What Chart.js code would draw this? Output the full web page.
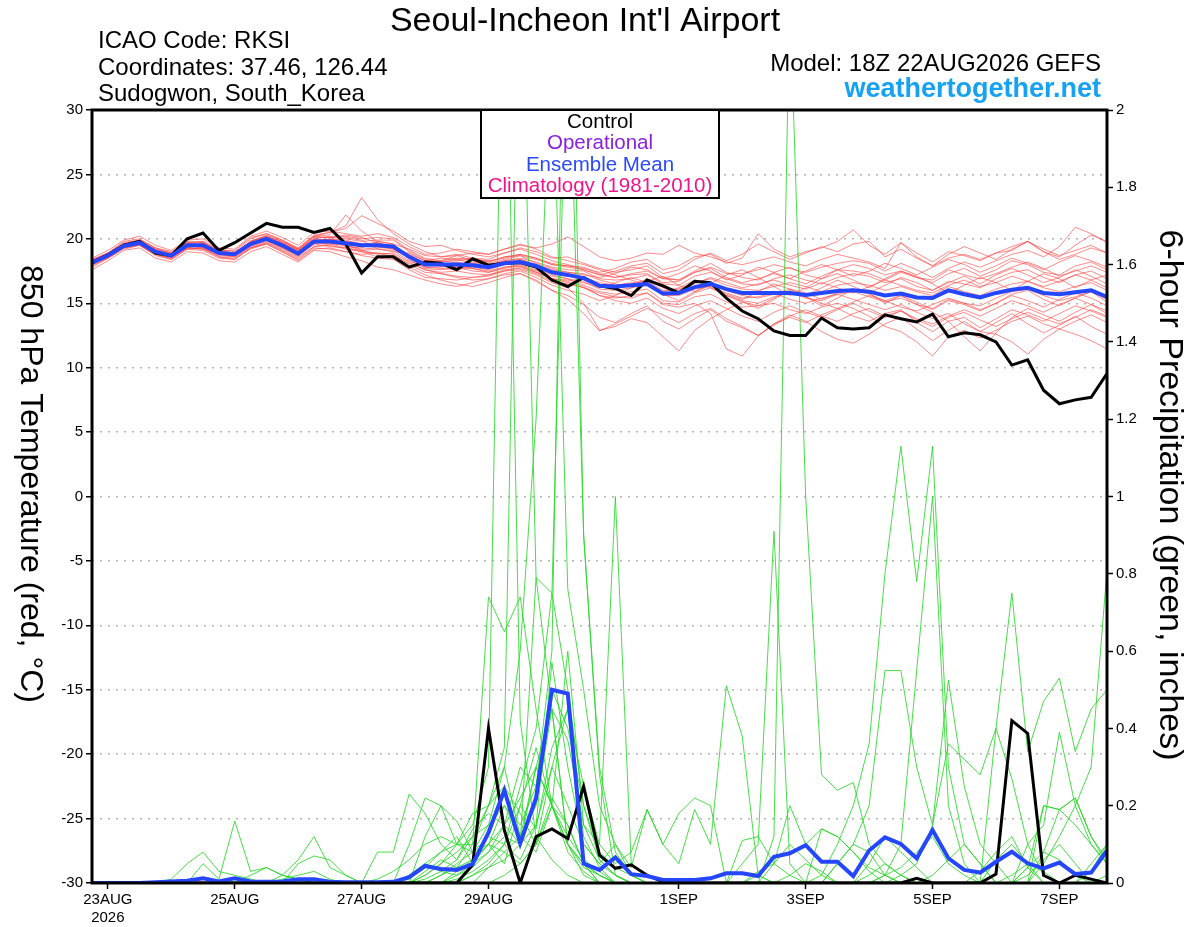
<!DOCTYPE html>
<html>
<head>
<meta charset="utf-8">
<title>Seoul-Incheon Int'l Airport - GEFS</title>
<script src="https://cdn.jsdelivr.net/npm/chart.js@4.4.1/dist/chart.umd.min.js"></script>
<style>
  html, body { margin: 0; padding: 0; background: #fff; }
  canvas { display: block; }
</style>
</head>
<body>
<canvas id="chart" width="1200" height="927"></canvas>
<script>
// forecast hours from 18Z 22AUG2026, every 6 h
const hours = [0, 6, 12, 18, 24, 30, 36, 42, 48, 54, 60, 66, 72, 78, 84, 90, 96, 102, 108, 114, 120,
  126, 132, 138, 144, 150, 156, 162, 168, 174, 180, 186, 192, 198, 204, 210, 216, 222, 228, 234, 240,
  246, 252, 258, 264, 270, 276, 282, 288, 294, 300, 306, 312, 318, 324, 330, 336, 342, 348, 354, 360,
  366, 372, 378, 384];

// x axis ticks (00Z of the labelled day)
const tickHours = [6, 54, 102, 150, 222, 270, 318, 366];
const tickLabels = [['23AUG', '2026'], '25AUG', '27AUG', '29AUG', '1SEP', '3SEP', '5SEP', '7SEP'];

// ensemble mean and control, 850 hPa temperature (C)
const meanTemp = [18.15, 18.7, 19.45, 19.7, 19.0, 18.7, 19.5, 19.5, 18.9, 18.8, 19.6, 20.0, 19.5,
  18.85, 19.8, 19.8, 19.65, 19.5, 19.5, 19.4, 18.6, 18.0, 18.0, 18.0, 17.95, 17.8,
  18.1, 18.2, 17.9, 17.4, 17.2, 16.95, 16.35, 16.3, 16.4, 16.5, 15.75, 15.8, 16.25,
  16.5, 16.1, 15.8, 15.8, 15.8, 15.8, 15.65, 15.8, 15.95, 16.0, 15.9, 15.6, 15.75,
  15.45, 15.4, 16.0, 15.7, 15.45, 15.8, 16.05, 16.2, 15.8, 15.7, 15.85, 16.0, 15.5];
const controlTemp = [18.15, 18.75, 19.5, 19.8, 18.9, 18.7, 20.0, 20.45, 19.1, 19.7, 20.45, 21.2, 20.9,
  20.9, 20.5, 20.8, 19.6, 17.35, 18.6, 18.6, 17.8, 18.2, 18.1, 17.6, 18.45, 17.95,
  18.1, 18.15, 17.8, 16.8, 16.3, 17.0, 16.35, 16.15, 15.6, 16.8, 16.35, 15.8, 16.7,
  16.6, 15.4, 14.4, 13.8, 12.85, 12.5, 12.5, 13.85, 13.1, 13.0, 13.1, 14.1, 13.8,
  13.55, 14.15, 12.4, 12.7, 12.55, 12.0, 10.2, 10.6, 8.25, 7.2, 7.5, 7.7, 9.55];

// ensemble mean and control, 6-hour precipitation (in)
const meanPrecip = [0, 0, 0, 0, 0.002, 0.004, 0.006, 0.012, 0.004, 0.012, 0.004, 0.003, 0.004,
  0.01, 0.01, 0.003, 0.002, 0.002, 0.002, 0.003, 0.015, 0.044, 0.036, 0.034, 0.049, 0.13,
  0.24, 0.103, 0.22, 0.5, 0.49, 0.05, 0.034, 0.066, 0.023, 0.018, 0.008, 0.008, 0.008,
  0.012, 0.025, 0.025, 0.018, 0.068, 0.077, 0.098, 0.055, 0.055, 0.018, 0.084, 0.118, 0.101,
  0.064, 0.137, 0.064, 0.034, 0.027, 0.055, 0.081, 0.051, 0.038, 0.053, 0.023, 0.027, 0.084];
const controlPrecip = [0, 0, 0, 0, 0, 0, 0, 0, 0, 0, 0, 0, 0,
  0, 0, 0, 0, 0, 0, 0, 0, 0, 0, 0, 0.047, 0.4,
  0.137, 0, 0.12, 0.14, 0.115, 0.25, 0.072, 0.038, 0.047, 0.02, 0.003, 0, 0,
  0, 0, 0, 0, 0, 0, 0, 0, 0, 0, 0, 0, 0,
  0.012, 0, 0, 0, 0, 0.023, 0.42, 0.387, 0.02, 0, 0.02, 0.01, 0];

// ensemble members, temperature
const memberTemp01 = [18.3, 18.9, 19.7, 19.9, 19.2, 18.9, 19.7, 19.8, 19.0,
  18.9, 19.8, 20.3, 19.8, 19.2, 20.2, 20.5, 21.0,
  23.2, 21.5, 20.4, 19.6, 19.0, 18.6, 18.8, 18.5,
  18.4, 18.9, 19.2, 18.8, 18.3, 18.0, 17.6, 17.2,
  17.5, 17.9, 18.1, 17.3, 17.6, 18.4, 18.9, 18.3,
  18.8, 19.6, 19.0, 18.4, 18.9, 19.4, 19.0, 19.6,
  19.8, 18.6, 19.2, 18.5, 17.9, 18.8, 19.4, 18.9,
  18.4, 19.2, 19.8, 19.0, 18.6, 19.5, 20.3, 19.8];
const memberTemp02 = [18.0, 18.5, 19.3, 19.6, 18.8, 18.4, 19.2, 19.3, 18.6,
  18.5, 19.2, 19.6, 19.0, 18.4, 19.3, 19.2, 19.0,
  18.8, 18.9, 18.6, 17.8, 17.2, 16.8, 16.5, 16.3,
  16.6, 17.0, 17.3, 16.8, 16.0, 15.6, 14.9, 13.9,
  13.5, 14.2, 14.8, 13.6, 13.0, 13.8, 14.5, 13.6,
  13.1, 12.5, 13.4, 14.1, 13.6, 12.8, 12.2, 11.9,
  12.6, 13.4, 13.9, 13.0, 12.1, 12.9, 13.6, 12.8,
  13.5, 14.2, 13.4, 12.7, 13.3, 14.0, 13.2, 12.6];
const memberTemp03 = [18.1, 18.8, 19.6, 19.8, 19.1, 18.8, 19.6, 19.4, 18.8,
  18.7, 19.5, 20.1, 19.6, 19.1, 20.0, 19.9, 20.1,
  19.9, 19.2, 19.0, 18.9, 18.3, 18.2, 18.4, 18.1,
  18.0, 18.3, 18.5, 18.2, 17.8, 17.6, 17.5, 16.9,
  16.8, 16.9, 17.2, 16.5, 16.4, 17.1, 17.4, 16.9,
  16.5, 16.4, 16.9, 17.2, 16.8, 16.5, 17.0, 17.3,
  17.1, 16.6, 16.9, 16.3, 16.0, 16.7, 16.5, 16.2,
  16.9, 17.4, 17.6, 17.0, 16.6, 17.2, 17.5, 16.9];
const memberTemp04 = [18.2, 18.6, 19.4, 19.8, 19.0, 18.6, 19.3, 19.6, 19.0,
  18.9, 19.7, 19.9, 19.3, 18.7, 19.6, 20.0, 19.4,
  19.3, 19.8, 19.6, 18.4, 17.7, 17.6, 17.8, 17.5,
  17.4, 17.8, 18.0, 17.6, 17.1, 16.9, 16.4, 15.9,
  15.7, 15.9, 16.1, 15.2, 15.1, 15.8, 16.2, 15.6,
  15.2, 15.0, 15.5, 15.9, 15.4, 15.2, 15.7, 15.9,
  15.5, 15.1, 15.4, 14.9, 14.6, 15.3, 15.0, 14.8,
  15.4, 15.9, 16.1, 15.6, 15.2, 15.5, 15.9, 15.1];
const memberTemp05 = [18.4, 18.9, 19.8, 20.0, 19.3, 18.9, 19.8, 19.7, 19.1,
  19.1, 20.1, 20.4, 19.9, 19.3, 20.3, 20.5, 20.8,
  21.8, 21.2, 20.6, 19.8, 19.4, 19.5, 19.1, 18.8,
  18.6, 18.9, 19.3, 19.0, 18.5, 18.6, 18.1, 17.7,
  17.4, 17.6, 17.9, 17.0, 16.8, 17.5, 18.1, 17.4,
  17.0, 16.8, 17.4, 17.8, 17.2, 16.9, 17.6, 18.0,
  17.7, 17.2, 17.5, 17.0, 16.6, 17.3, 17.7, 17.1,
  17.6, 18.3, 18.0, 17.4, 17.2, 17.9, 18.2, 17.6];
const memberTemp06 = [17.8, 18.5, 19.2, 19.5, 18.8, 18.5, 19.3, 19.2, 18.6,
  18.4, 19.3, 19.7, 19.1, 18.5, 19.4, 19.6, 19.3,
  19.0, 18.6, 18.7, 18.1, 17.6, 17.3, 17.1, 17.0,
  17.1, 17.5, 17.6, 17.2, 16.6, 16.2, 15.0, 12.9,
  13.2, 13.8, 13.5, 12.4, 11.3, 12.9, 13.8, 14.5,
  15.1, 14.6, 15.3, 16.0, 15.5, 14.8, 15.4, 16.1,
  15.8, 15.0, 15.6, 15.1, 14.5, 15.2, 14.9, 14.4,
  15.0, 15.7, 16.0, 15.3, 14.8, 15.4, 15.9, 15.3];
const memberTemp07 = [18.3, 18.8, 19.6, 19.7, 19.0, 18.7, 19.5, 19.4, 18.8,
  18.7, 19.5, 19.9, 19.5, 18.9, 19.7, 19.7, 19.6,
  19.4, 19.4, 19.5, 18.6, 18.0, 17.9, 17.8, 17.7,
  17.5, 17.8, 17.9, 17.4, 16.9, 16.6, 16.2, 15.8,
  15.5, 15.4, 15.8, 14.9, 14.7, 15.0, 14.2, 11.45,
  10.9, 12.45, 13.4, 13.9, 13.5, 14.1, 14.6, 14.0,
  13.6, 14.2, 14.5, 13.5, 12.8, 13.6, 13.9, 13.1,
  13.8, 14.5, 14.1, 13.6, 14.2, 14.8, 14.4, 13.9];
const memberTemp08 = [18.1, 18.7, 19.4, 19.6, 18.9, 18.6, 19.4, 19.6, 19.0,
  18.9, 19.6, 20.0, 19.4, 18.8, 19.9, 19.9, 19.8,
  19.6, 19.7, 19.3, 18.8, 18.3, 18.5, 18.4, 18.5,
  18.2, 18.6, 18.7, 18.4, 18.0, 17.9, 17.8, 17.3,
  17.0, 17.2, 17.3, 16.6, 16.7, 17.4, 17.7, 17.0,
  16.6, 16.9, 17.3, 16.9, 16.5, 17.1, 17.6, 17.5,
  17.3, 16.8, 17.4, 17.0, 16.8, 17.6, 17.2, 16.9,
  17.3, 17.8, 18.2, 17.7, 17.1, 17.5, 17.9, 17.4];
const memberTemp09 = [18.0, 18.6, 19.4, 19.6, 18.9, 18.6, 19.3, 19.3, 18.8,
  18.6, 19.4, 19.8, 19.3, 18.7, 19.6, 19.4, 19.3,
  19.1, 19.2, 19.1, 18.3, 17.8, 17.7, 17.6, 17.8,
  17.6, 18.0, 18.1, 17.8, 17.2, 16.9, 16.7, 16.1,
  16.0, 16.2, 16.4, 15.6, 15.6, 16.1, 16.3, 15.8,
  15.4, 15.5, 15.8, 15.3, 15.0, 15.4, 15.7, 15.3,
  14.9, 14.5, 14.9, 14.3, 13.8, 14.2, 13.4, 12.8,
  12.6, 12.0, 11.05, 12.2, 13.0, 12.6, 12.1, 11.45];
const memberTemp10 = [18.3, 18.8, 19.5, 19.7, 19.1, 18.8, 19.6, 19.5, 19.0,
  18.9, 19.8, 20.2, 19.7, 19.1, 20.0, 20.2, 20.0,
  19.8, 19.9, 19.9, 19.0, 18.4, 18.2, 18.3, 18.4,
  18.3, 18.5, 18.8, 18.5, 18.1, 17.9, 17.7, 17.4,
  17.7, 18.2, 18.4, 17.6, 17.9, 18.6, 18.8, 18.1,
  18.5, 20.4, 19.2, 18.6, 19.0, 19.3, 19.8, 20.7,
  19.5, 18.8, 19.7, 18.9, 18.2, 19.0, 18.7, 18.3,
  18.9, 19.1, 19.8, 19.0, 18.4, 18.8, 19.3, 18.9];
const memberTemp11 = [18.2, 18.7, 19.5, 19.8, 19.0, 18.7, 19.4, 19.5, 18.9,
  18.8, 19.5, 19.9, 19.4, 18.8, 19.7, 19.6, 19.5,
  19.2, 19.3, 19.3, 18.5, 17.8, 17.8, 17.9, 17.7,
  17.4, 17.7, 17.9, 17.5, 16.9, 16.7, 16.3, 15.6,
  15.4, 15.6, 15.8, 15.0, 14.9, 15.5, 15.7, 15.1,
  14.7, 14.8, 15.0, 14.5, 14.2, 14.7, 15.0, 14.6,
  14.0, 13.2, 12.8, 12.0, 10.9, 12.4, 12.9, 12.3,
  12.9, 13.6, 14.0, 13.4, 13.0, 13.6, 14.1, 13.5];
const memberTemp12 = [18.2, 18.6, 19.5, 19.6, 18.9, 18.6, 19.5, 19.4, 18.9,
  18.7, 19.6, 20.0, 19.5, 19.0, 19.8, 19.8, 19.6,
  19.5, 19.6, 19.4, 18.7, 18.1, 18.1, 18.0, 18.2,
  18.0, 18.2, 18.3, 17.9, 17.5, 17.2, 17.0, 16.6,
  16.4, 16.6, 16.7, 16.0, 16.1, 16.6, 16.9, 16.4,
  16.1, 16.0, 16.3, 16.6, 16.3, 15.9, 16.4, 16.6,
  16.4, 16.0, 16.3, 15.9, 15.6, 16.3, 15.9, 15.6,
  16.1, 16.5, 16.7, 16.2, 15.9, 16.3, 16.6, 16.0];
const memberTemp13 = [18.1, 18.8, 19.5, 19.7, 19.0, 18.8, 19.5, 19.6, 18.9,
  18.8, 19.7, 20.1, 19.6, 18.9, 19.8, 20.0, 19.9,
  19.6, 19.4, 19.2, 18.5, 18.0, 17.9, 18.1, 17.9,
  17.8, 18.1, 18.4, 18.0, 17.4, 17.1, 16.9, 16.4,
  16.2, 16.4, 16.5, 15.8, 15.8, 16.3, 16.6, 16.0,
  15.6, 15.4, 15.7, 16.1, 15.8, 15.3, 15.8, 16.1,
  15.7, 15.2, 15.6, 14.9, 14.3, 13.6, 12.4, 11.3,
  12.7, 13.9, 14.6, 14.1, 13.6, 14.3, 14.9, 14.2];
const memberTemp14 = [18.3, 18.9, 19.6, 19.9, 19.2, 18.8, 19.6, 19.7, 19.1,
  18.9, 19.8, 20.2, 19.7, 19.1, 20.1, 20.1, 20.2,
  20.0, 20.1, 20.0, 19.1, 18.5, 18.3, 18.5, 18.4,
  18.2, 18.6, 18.8, 18.5, 18.0, 17.8, 17.6, 17.2,
  17.0, 17.3, 17.5, 16.9, 16.8, 17.4, 17.8, 17.3,
  17.3, 17.6, 18.0, 17.7, 17.4, 17.8, 18.1, 18.3,
  18.1, 17.5, 18.1, 17.6, 17.0, 17.7, 18.2, 17.8,
  18.3, 18.8, 19.1, 18.6, 19.4, 20.9, 20.4, 19.7];
const memberTemp15 = [17.9, 18.5, 19.3, 19.5, 18.8, 18.5, 19.3, 19.2, 18.7,
  18.6, 19.3, 19.7, 19.2, 18.6, 19.4, 19.5, 19.2,
  19.0, 18.9, 18.8, 18.0, 17.4, 17.3, 17.0, 16.8,
  16.9, 17.2, 17.3, 16.7, 16.0, 15.3, 14.2, 12.85,
  13.4, 14.0, 14.6, 14.1, 13.5, 14.2, 14.6, 13.8,
  13.2, 12.5, 13.3, 14.0, 14.5, 14.0, 13.6, 14.2,
  14.6, 14.0, 14.4, 13.8, 13.4, 14.0, 14.5, 14.0,
  14.6, 15.2, 14.8, 14.3, 14.9, 15.4, 14.9, 14.4];
const memberTemp16 = [18.2, 18.8, 19.6, 19.8, 19.1, 18.7, 19.6, 19.6, 19.0,
  18.9, 19.8, 20.2, 19.8, 19.2, 20.2, 20.3, 21.85,
  20.6, 19.8, 19.6, 19.2, 18.7, 18.6, 18.7, 18.9,
  18.8, 19.2, 19.5, 19.3, 19.6, 20.15, 19.4, 18.6,
  18.3, 18.5, 18.9, 18.8, 19.5, 18.9, 18.6, 18.2,
  18.0, 18.3, 18.6, 18.2, 17.9, 18.4, 18.8, 18.5,
  18.2, 17.7, 19.7, 18.6, 17.9, 18.5, 18.8, 18.4,
  18.9, 19.4, 19.8, 19.2, 18.7, 19.1, 19.5, 18.9];
const memberTemp17 = [17.6, 18.3, 19.1, 19.3, 18.5, 18.2, 19.0, 18.9, 18.3,
  18.2, 19.0, 19.4, 18.8, 18.2, 19.1, 19.0, 18.6,
  18.3, 17.8, 17.6, 17.2, 16.8, 16.5, 16.3, 16.6,
  16.9, 17.3, 17.5, 17.0, 16.4, 16.0, 15.7, 15.2,
  15.6, 16.2, 16.7, 17.1, 16.4, 15.9, 16.5, 17.2,
  17.6, 17.0, 16.3, 15.6, 16.2, 16.9, 17.3, 16.8,
  16.2, 16.9, 17.5, 17.1, 16.5, 15.8, 16.4, 17.0,
  16.6, 16.0, 16.7, 17.3, 16.9, 16.2, 16.8, 17.2];
const memberTemp18 = [18.5, 19.1, 19.9, 20.2, 19.5, 19.1, 19.9, 20.0, 19.3,
  19.2, 20.2, 20.6, 20.1, 19.5, 20.5, 20.6, 20.4,
  20.2, 20.4, 20.1, 19.4, 18.8, 18.9, 19.2, 19.0,
  18.8, 19.2, 19.6, 19.2, 18.6, 18.3, 18.0, 17.6,
  17.2, 16.8, 16.4, 15.7, 15.2, 15.9, 16.4, 15.7,
  15.3, 15.9, 16.5, 16.1, 15.6, 16.2, 16.8, 16.3,
  15.8, 16.4, 17.0, 16.6, 16.0, 16.6, 17.1, 16.5,
  17.2, 17.7, 17.2, 16.6, 17.0, 17.6, 17.1, 16.5];
const memberTemp19 = [18.0, 18.6, 19.3, 19.5, 18.7, 18.4, 19.2, 19.1, 18.5,
  18.4, 19.3, 19.6, 19.0, 18.3, 19.2, 19.3, 19.0,
  18.7, 18.5, 18.4, 17.6, 17.0, 16.9, 16.8, 17.0,
  17.2, 17.6, 17.7, 17.3, 16.7, 16.5, 16.2, 15.6,
  15.2, 15.0, 15.4, 14.6, 14.2, 14.8, 15.2, 14.6,
  14.0, 13.6, 14.3, 14.8, 14.3, 13.9, 14.5, 15.0,
  14.4, 13.9, 14.4, 13.7, 13.2, 13.9, 14.3, 13.7,
  13.2, 13.8, 14.3, 13.8, 13.4, 13.9, 14.5, 14.0];
const memberTemp20 = [18.4, 18.8, 19.6, 19.9, 19.3, 19.0, 19.7, 19.8, 19.2,
  19.0, 20.0, 20.4, 19.9, 19.2, 20.2, 20.1, 20.3,
  20.1, 19.7, 19.4, 18.6, 18.2, 18.3, 18.7, 18.3,
  18.1, 18.4, 18.7, 18.1, 17.7, 17.4, 17.2, 17.0,
  17.3, 17.8, 17.6, 16.9, 17.3, 17.9, 17.5, 16.8,
  17.2, 17.8, 17.4, 16.9, 17.5, 18.0, 17.6, 17.1,
  17.5, 18.1, 17.7, 17.2, 17.8, 18.4, 18.0, 17.4,
  17.9, 18.5, 18.1, 17.6, 18.2, 18.7, 18.3, 17.8];
const memberTemp21 = [18.1, 18.7, 19.4, 19.6, 18.9, 18.6, 19.5, 19.3, 18.8,
  18.7, 19.6, 19.9, 19.4, 18.9, 19.7, 19.7, 19.5,
  19.1, 18.8, 18.9, 18.2, 17.6, 17.4, 17.5, 17.3,
  17.2, 17.5, 17.8, 17.4, 16.9, 16.8, 16.6, 16.2,
  16.6, 17.0, 16.6, 15.9, 16.2, 16.8, 16.2, 15.6,
  15.1, 14.8, 15.4, 15.9, 15.5, 15.0, 14.6, 15.1,
  15.6, 15.2, 14.7, 14.4, 14.9, 15.4, 15.0, 14.5,
  15.0, 15.6, 15.2, 14.7, 15.3, 15.8, 15.4, 14.8];
const memberTemp22 = [18.2, 18.7, 19.5, 19.7, 19.1, 18.7, 19.4, 19.5, 18.9,
  18.8, 19.6, 20.1, 19.6, 19.0, 19.9, 19.8, 19.7,
  19.5, 19.5, 19.2, 18.6, 18.0, 18.0, 18.2, 18.0,
  17.9, 18.3, 18.4, 18.0, 17.6, 17.4, 17.3, 16.8,
  16.5, 16.3, 16.9, 16.2, 16.0, 16.5, 17.0, 16.6,
  16.2, 16.5, 16.8, 16.4, 16.1, 16.6, 16.2, 15.8,
  16.3, 16.8, 16.4, 16.0, 15.8, 16.4, 16.8, 16.3,
  16.6, 17.1, 16.7, 16.3, 16.7, 17.2, 16.8, 16.2];

// ensemble members, precipitation
const memberPrecip01 = [0, 0, 0, 0, 0, 0.01, 0.05, 0.08, 0.03, 0.02, 0.01, 0, 0,
  0, 0, 0, 0, 0, 0, 0, 0.02, 0.05, 0.08, 0.1, 0.15, 0.3,
  2.6, 0.42, 0.12, 0.06, 0.02, 0, 0, 0, 0, 0, 0, 0, 0,
  0, 0, 0, 0, 0, 0.02, 0.05, 0.03, 0, 0, 0, 0.02, 0.04,
  0.08, 0.12, 0.05, 0.02, 0, 0, 0.02, 0.05, 0.03, 0, 0, 0, 0.02];
const memberPrecip02 = [0, 0, 0, 0, 0, 0, 0, 0.05, 0.01, 0.16, 0.03, 0.04, 0.02,
  0.01, 0, 0, 0, 0, 0, 0, 0, 0.03, 0.06, 0.04, 0.1, 0.2,
  0.35, 2.5, 0.79, 0.45, 0.1, 0.02, 0, 0, 0, 0, 0, 0, 0,
  0, 0, 0, 0, 0, 0, 0, 0, 0.05, 0.1, 0.08, 0.02, 0,
  0, 0, 0, 0, 0.03, 0.08, 0.12, 0.04, 0, 0, 0, 0.05, 0.1];
const memberPrecip03 = [0, 0, 0, 0, 0, 0, 0, 0, 0, 0, 0, 0, 0.01,
  0.02, 0.03, 0.01, 0, 0, 0, 0, 0.01, 0.04, 0.08, 0.12, 0.05, 0.1,
  0.2, 0.15, 0.25, 0.6, 2.8, 0.9, 0.28, 0.02, 0, 0, 0, 0, 0,
  0, 0, 0, 0, 0.05, 0.2, 0.1, 0.14, 0.12, 0.08, 0.03, 0, 0,
  0, 0.02, 0.06, 0.1, 0.05, 0, 0, 0, 0.08, 0.19, 0.15, 0.1, 0.05];
const memberPrecip04 = [0, 0, 0, 0, 0, 0, 0, 0, 0, 0, 0, 0, 0,
  0, 0, 0, 0, 0, 0, 0, 0, 0.02, 0.05, 0.1, 0.08, 0.12,
  0.1, 0.25, 0.4, 0.75, 2.3, 0.9, 0.3, 0.08, 0.02, 0, 0, 0, 0,
  0, 0, 0, 0.02, 0, 0, 0, 0, 0, 0, 0.05, 0.12, 0.08,
  0.04, 0, 0, 0, 0, 0, 0, 0.04, 0.2, 0.19, 0.22, 0.12, 0.05];
const memberPrecip05 = [0, 0, 0, 0, 0, 0, 0, 0, 0, 0, 0, 0, 0,
  0, 0, 0, 0, 0, 0, 0, 0, 0, 0.02, 0.05, 0.08, 0.15,
  0.3, 0.6, 1.2, 2.2, 0.76, 0.5, 0.2, 0.1, 0.02, 0, 0, 0, 0,
  0, 0, 0, 0, 0, 0, 0, 0, 0, 0, 0, 0, 0.02,
  0.05, 0.15, 0.36, 0.32, 0.28, 0.4, 0.27, 0.1, 0.02, 0, 0, 0, 0];
const memberPrecip06 = [0, 0, 0, 0, 0, 0, 0, 0, 0, 0, 0, 0, 0,
  0, 0, 0, 0, 0, 0.01, 0.03, 0.06, 0.1, 0.12, 0.1, 0.1, 0.74,
  0.65, 0.74, 0.45, 0.2, 0.1, 0.04, 0.02, 0, 0, 0, 0, 0, 0,
  0, 0, 0, 0, 0, 0, 0, 0, 0, 0, 0, 0, 0,
  0, 0, 0, 0, 0, 0, 0, 0, 0, 0, 0, 0.03, 0.1];
const memberPrecip07 = [0, 0, 0, 0, 0, 0, 0, 0, 0, 0, 0, 0, 0,
  0, 0, 0, 0, 0, 0, 0, 0.02, 0.05, 0.03, 0.06, 0.14, 0.18,
  0.15, 0.1, 0.79, 0.75, 0.5, 0.2, 0.06, 0.02, 0, 0, 0, 0, 0,
  0, 0, 0, 0.03, 0.05, 0.1, 0.06, 0.02, 0, 0, 0, 0, 0,
  0, 0, 0, 0, 0, 0, 0, 0, 0, 0, 0, 0, 0];
const memberPrecip08 = [0, 0, 0, 0, 0, 0, 0, 0, 0, 0, 0, 0, 0,
  0, 0, 0, 0, 0, 0, 0, 0, 0, 0.02, 0.04, 0.06, 0.1,
  0.08, 0.12, 0.2, 0.45, 0.37, 0.15, 0.1, 1.0, 0.05, 0.02, 0, 0, 0,
  0, 0, 0, 0, 0, 0, 0, 0, 0, 0, 0, 0, 0,
  0, 0, 0, 0, 0, 0, 0, 0.02, 0.06, 0.1, 0.05, 0, 0];
const memberPrecip09 = [0, 0, 0, 0, 0, 0, 0, 0, 0, 0, 0, 0, 0,
  0, 0, 0, 0, 0, 0, 0, 0, 0.01, 0.03, 0.02, 0.05, 0.08,
  0.12, 0.1, 0.15, 0.57, 0.3, 0.1, 0.05, 0.1, 0.04, 0.19, 0.1, 0.05, 0.19,
  0.1, 0.51, 0.38, 0.02, 0, 0, 0, 0, 0, 0, 0, 0, 0,
  0, 0, 0, 0, 0, 0, 0, 0, 0, 0, 0, 0, 0];
const memberPrecip10 = [0, 0, 0, 0, 0, 0, 0, 0, 0, 0, 0, 0, 0,
  0, 0, 0, 0, 0, 0, 0, 0, 0, 0, 0, 0.02, 0.05,
  0.1, 0.06, 0.15, 0.3, 0.2, 0.1, 0.05, 0.02, 0, 0, 0, 0, 0,
  0, 0, 0.05, 0.1, 0.91, 0.05, 0, 0, 0, 0, 0.02, 0.05, 0.02,
  0, 0, 0, 0, 0, 0, 0, 0, 0, 0, 0, 0, 0];
const memberPrecip11 = [0, 0, 0, 0, 0, 0, 0, 0, 0, 0, 0, 0, 0,
  0, 0, 0, 0, 0, 0, 0, 0, 0, 0, 0.03, 0.06, 0.1,
  0.05, 0.2, 0.35, 0.2, 0.12, 0.06, 0.03, 0, 0, 0, 0, 0, 0,
  0, 0, 0, 0, 0.12, 2.3, 1.0, 0.28, 0.24, 0.26, 0.1, 0.05, 0.02,
  0, 0, 0, 0, 0, 0, 0, 0, 0, 0, 0, 0, 0];
const memberPrecip12 = [0, 0, 0, 0, 0, 0, 0, 0, 0, 0, 0, 0, 0,
  0, 0, 0, 0, 0, 0, 0, 0, 0, 0, 0, 0, 0.04,
  0.08, 0.05, 0.1, 0.2, 0.15, 0.05, 0, 0, 0, 0, 0, 0, 0,
  0, 0, 0, 0, 0, 0, 0, 0.02, 0.1, 0.2, 0.36, 0.8, 1.13,
  0.78, 1.13, 0.3, 0.1, 0.05, 0, 0, 0, 0, 0, 0, 0, 0];
const memberPrecip13 = [0, 0, 0, 0, 0, 0, 0, 0, 0, 0, 0, 0, 0,
  0, 0, 0, 0, 0, 0, 0, 0, 0, 0, 0.02, 0.04, 0.08,
  0.15, 0.3, 0.25, 0.5, 0.4, 0.2, 0.08, 0.04, 0.02, 0, 0, 0, 0,
  0, 0, 0, 0, 0, 0, 0, 0, 0, 0, 0, 0.02, 0.1,
  0.55, 1.0, 0.2, 0.05, 0, 0.06, 0.1, 0.05, 0, 0, 0, 0, 0];
const memberPrecip14 = [0, 0, 0, 0, 0, 0, 0, 0, 0, 0, 0, 0, 0,
  0, 0, 0, 0, 0, 0, 0, 0, 0, 0, 0.01, 0.03, 0.06,
  0.1, 0.2, 0.14, 0.35, 0.45, 0.12, 0.04, 0, 0, 0, 0, 0, 0,
  0, 0, 0, 0, 0, 0, 0, 0, 0.05, 0.1, 0.2, 0.55, 0.55,
  0.3, 0.15, 0.525, 0.25, 0.1, 0.05, 0, 0, 0, 0, 0, 0, 0];
const memberPrecip15 = [0, 0, 0, 0, 0, 0, 0, 0, 0, 0, 0, 0, 0,
  0, 0, 0, 0, 0, 0, 0, 0, 0, 0, 0, 0, 0,
  0.02, 0.05, 0.1, 0.22, 0.15, 0.05, 0, 0, 0, 0, 0, 0, 0,
  0, 0, 0, 0, 0, 0, 0, 0, 0, 0, 0, 0, 0,
  0, 0, 0, 0, 0, 0.4, 0.75, 0.34, 0.47, 0.53, 0.34, 0.45, 0.5];
const memberPrecip16 = [0, 0, 0, 0, 0, 0, 0, 0, 0, 0, 0, 0, 0,
  0, 0, 0, 0, 0, 0, 0, 0, 0, 0, 0, 0.02, 0.04,
  0.06, 0.1, 0.3, 0.2, 0.08, 0.03, 0, 0, 0, 0, 0, 0, 0,
  0, 0, 0, 0, 0, 0, 0, 0, 0, 0, 0, 0, 0,
  0, 0, 0, 0, 0, 0, 0, 0, 0.05, 0.12, 0.2, 0.3, 0.81];
const memberPrecip17 = [0, 0, 0, 0, 0, 0, 0, 0, 0, 0, 0, 0, 0.02,
  0.06, 0.12, 0.04, 0.02, 0, 0, 0, 0, 0.02, 0.05, 0.08, 0.12, 0.2,
  0.25, 0.18, 0.1, 0.3, 0.45, 0.25, 0.1, 0.05, 0.08, 0.19, 0.1, 0.18, 0.22,
  0.2, 0, 0, 0, 0, 0, 0, 0, 0, 0, 0, 0, 0,
  0, 0, 0, 0, 0, 0, 0, 0, 0, 0, 0, 0, 0];
const memberPrecip18 = [0, 0, 0, 0, 0, 0, 0, 0, 0, 0, 0, 0, 0,
  0, 0, 0, 0, 0, 0.08, 0.08, 0.23, 0.18, 0.1, 0.06, 0.12, 0.15,
  0.2, 0.12, 0.3, 0.2, 0.1, 0.05, 0.02, 0, 0, 0, 0, 0, 0,
  0, 0, 0.11, 0.12, 0.05, 0.02, 0, 0, 0, 0, 0, 0, 0,
  0, 0, 0, 0, 0, 0, 0, 0, 0.2, 0.19, 0.22, 0.12, 0.06];
const memberPrecip19 = [0, 0, 0, 0, 0, 0, 0, 0, 0, 0, 0, 0, 0,
  0.05, 0.07, 0.06, 0.02, 0, 0, 0, 0.1, 0.22, 0.2, 0.16, 0.08, 0.1,
  0.15, 0.22, 0.3, 0.45, 0.1, 0.05, 0.02, 0, 0, 0, 0, 0, 0,
  0, 0, 0, 0, 0, 0, 0, 0.14, 0.12, 0.08, 0.04, 0.02, 0,
  0, 0, 0, 0, 0, 0, 0, 0.1, 0.15, 0.39, 0.2, 0.1, 0.05];
const memberPrecip20 = [0, 0, 0, 0, 0, 0, 0, 0, 0, 0, 0.02, 0.04, 0.02,
  0.01, 0, 0, 0, 0, 0, 0, 0, 0.12, 0.2, 0.1, 0.18, 0.2,
  0.3, 0.12, 0.08, 0.2, 0.6, 0.15, 0.06, 0.02, 0, 0, 0, 0, 0,
  0, 0, 0, 0, 0, 0, 0, 0, 0, 0, 0, 0, 0,
  0, 0, 0, 0, 0, 0, 0, 0.04, 0.08, 0.06, 0.02, 0, 0];

const memberTemps = [memberTemp01, memberTemp02, memberTemp03, memberTemp04, memberTemp05, memberTemp06,
  memberTemp07, memberTemp08, memberTemp09, memberTemp10, memberTemp11, memberTemp12, memberTemp13,
  memberTemp14, memberTemp15, memberTemp16, memberTemp17, memberTemp18, memberTemp19, memberTemp20,
  memberTemp21, memberTemp22];
const memberPrecips = [memberPrecip01, memberPrecip02, memberPrecip03, memberPrecip04, memberPrecip05,
  memberPrecip06, memberPrecip07, memberPrecip08, memberPrecip09, memberPrecip10, memberPrecip11,
  memberPrecip12, memberPrecip13, memberPrecip14, memberPrecip15, memberPrecip16, memberPrecip17,
  memberPrecip18, memberPrecip19, memberPrecip20];

const FONT = "'Liberation Sans', Arial, Helvetica, sans-serif";
const BLUE = '#2446ff';

function toPoints(values) {
    return values.map((v, i) => ({ x: hours[i], y: v }));
}

// Build datasets (lower order is drawn on top)
const datasets = [
    { data: toPoints(meanTemp), yAxisID: 'y', borderColor: BLUE, borderWidth: 4, order: 0 },
    { data: toPoints(meanPrecip), yAxisID: 'y2', borderColor: BLUE, borderWidth: 4, order: 0 },
    { data: toPoints(controlTemp), yAxisID: 'y', borderColor: '#000', borderWidth: 3, order: 1 },
    { data: toPoints(controlPrecip), yAxisID: 'y2', borderColor: '#000', borderWidth: 3, order: 1 }
];
memberPrecips.forEach(m => {
    datasets.push({ data: toPoints(m), yAxisID: 'y2', borderColor: 'rgba(40,215,40,0.85)', borderWidth: 1, order: 2 });
});
memberTemps.forEach(m => {
    datasets.push({ data: toPoints(m), yAxisID: 'y', borderColor: 'rgba(255,60,60,0.6)', borderWidth: 1, order: 3 });
});

// Frame, legend box and all the header / axis texts
const decorations = {
    id: 'decorations',
    afterDraw(chart) {
        const ctx = chart.ctx;
        const a = chart.chartArea;
        ctx.save();

        ctx.strokeStyle = '#000';
        ctx.lineWidth = 3;
        ctx.strokeRect(a.left, a.top, a.right - a.left, a.bottom - a.top);

        // legend box
        ctx.fillStyle = '#fff';
        ctx.fillRect(481, a.top, 238, 88);
        ctx.lineWidth = 2;
        ctx.strokeRect(481, a.top, 238, 88);
        ctx.font = '20.5px ' + FONT;
        ctx.textAlign = 'center';
        ctx.textBaseline = 'alphabetic';
        const legend = [['Control', '#000'], ['Operational', '#8a1fe0'],
            ['Ensemble Mean', '#2a48ff'], ['Climatology (1981-2010)', '#f0158c']];
        legend.forEach((l, i) => {
            ctx.fillStyle = l[1];
            ctx.fillText(l[0], 600, 128 + i * 21.3);
        });

        // titles
        ctx.fillStyle = '#000';
        ctx.font = '34px ' + FONT;
        ctx.fillText("Seoul-Incheon Int'l Airport", 585, 31);

        ctx.textAlign = 'left';
        ctx.font = '24px ' + FONT;
        ctx.fillText('ICAO Code: RKSI', 98, 48);
        ctx.fillText('Coordinates: 37.46, 126.44', 98, 75);
        ctx.fillText('Sudogwon, South_Korea', 98, 101);

        ctx.textAlign = 'right';
        ctx.fillText('Model: 18Z 22AUG2026 GEFS', 1101, 71);
        ctx.fillStyle = '#15a2f3';
        ctx.font = 'bold 27px ' + FONT;
        ctx.fillText('weathertogether.net', 1101, 97);

        // rotated axis titles
        ctx.fillStyle = '#000';
        ctx.textAlign = 'center';
        ctx.textBaseline = 'middle';
        ctx.save();
        ctx.font = '32px ' + FONT;
        ctx.translate(30, 484);
        ctx.rotate(Math.PI / 2);
        ctx.fillText('850 hPa Temperature (red, \u00b0C)', 0, 0);
        ctx.restore();
        ctx.save();
        ctx.font = '34px ' + FONT;
        ctx.translate(1169, 495);
        ctx.rotate(Math.PI / 2);
        ctx.fillText('6-hour Precipitation (green, inches)', 0, 0);
        ctx.restore();

        ctx.restore();
    }
};

const ctx = document.getElementById('chart').getContext('2d');

const chart = new Chart(ctx, {
    type: 'line',
    data: { datasets: datasets },
    plugins: [decorations],
    options: {
        responsive: false,
        animation: false,
        devicePixelRatio: 1,
        layout: { padding: { top: 110, left: 0, right: 0, bottom: 0 } },
        elements: {
            point: { radius: 0 },
            line: { tension: 0, fill: false }
        },
        plugins: {
            legend: { display: false },
            tooltip: { enabled: false }
        },
        scales: {
            x: {
                type: 'linear',
                min: 0,
                max: 384,
                afterBuildTicks: s => { s.ticks = tickHours.map(v => ({ value: v })); },
                afterFit: s => { s.height = 44; },
                grid: { drawOnChartArea: false, tickLength: 6, tickColor: '#000', tickWidth: 1.5 },
                border: { display: false },
                ticks: {
                    autoSkip: false,
                    maxRotation: 0,
                    padding: 2,
                    color: '#000',
                    font: { family: FONT, size: 15, lineHeight: 1.2 },
                    callback: (v, i) => tickLabels[i]
                }
            },
            y: {
                position: 'left',
                min: -30,
                max: 30,
                afterFit: s => { s.width = 92; },
                grid: { color: '#b4b4b4', lineWidth: 1.5, tickLength: 6, tickColor: '#000', tickWidth: 1.5 },
                border: { display: false, dash: [2, 6] },
                ticks: { stepSize: 5, padding: 3, color: '#000', font: { family: FONT, size: 15 } }
            },
            y2: {
                position: 'right',
                min: 0,
                max: 2,
                afterFit: s => { s.width = 93; },
                grid: { drawOnChartArea: false, tickLength: 6, tickColor: '#000', tickWidth: 1.5 },
                border: { display: false },
                ticks: {
                    stepSize: 0.2,
                    padding: 3,
                    color: '#000',
                    font: { family: FONT, size: 15 },
                    callback: v => String(+v.toFixed(1))
                }
            }
        }
    }
});
</script>
</body>
</html>
